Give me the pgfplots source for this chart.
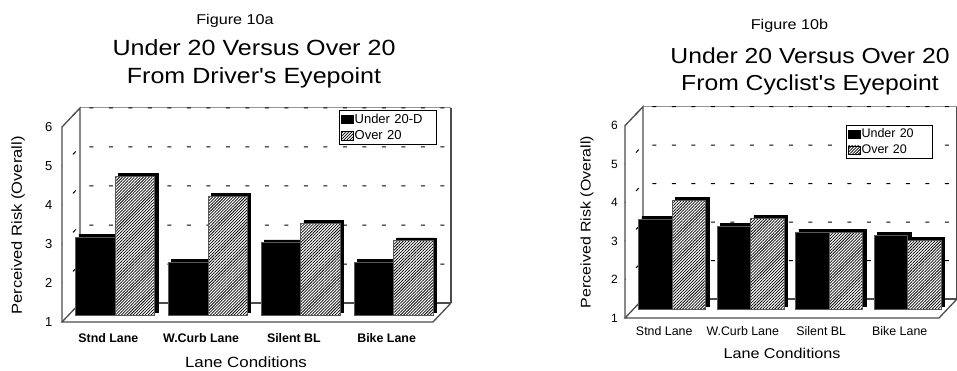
\documentclass[border=0pt]{standalone}
\usepackage{fontspec}
\setmainfont{Liberation Sans}
\newfontfamily\widefont[FakeStretch=1.14]{Liberation Sans}
\usepackage{pgfplots}
\pgfplotsset{compat=1.18}
\usepackage{pgfplotstable}
\usetikzlibrary{patterns.meta}

% mean perceived risk per lane condition, by age group
\pgfplotstableread{
idx under over
0 3.00 4.55
1 2.35 4.05
2 2.85 3.35
3 2.35 2.90
}\driver
\pgfplotstableread{
idx under over
0 3.33 3.82
1 3.15 3.35
2 3.00 3.00
3 2.91 2.78
}\cyclist

\newcommand\fs[1]{\fontsize{#1}{#1}\selectfont}
\definecolor{frame}{gray}{0.3}
\definecolor{edge}{gray}{0.35}
\tikzset{hatch/.style={fill=white,
  postaction={pattern={Lines[angle=45,distance=2.1pt,line width=0.75pt]}}}}

\pgfplotsset{
  risk3d/.style={
    scale only axis, anchor=south west,
    xmin=-0.5, xmax=3.5, ymin=1, ymax=6,
    y coord trafo/.code={\pgfmathparse{##1-1}},
    y coord inv trafo/.code={\pgfmathparse{##1+1}},
    ytick={1,2,3,4,5,6}, xtick={0,1,2,3},
    axis line style={draw=none}, tick style={draw=none},
    major tick length=0pt,
    clip=false,
    /pgf/number format/assume math mode=true,
    legend image code/.code={\draw[##1, line width=0.6pt] (0pt,-4.2pt) rectangle (12pt,4.2pt);},
    legend cell align=left,
  },
}

% draws the 3D box: floor, back wall, left side and dashed gridlines
\newcommand\drawriskbox[1]{%
  \draw[frame, line width=1.3pt]
    ([shift={#1}]rel axis cs:0,0) -- ([shift={#1}]rel axis cs:1,0);
  \pgfplotsinvokeforeach{0.2,0.4,0.6,0.8}{%
    \draw[black, line width=1pt, dash pattern=on 4pt off 15.5pt, dash phase=3.5pt]
      (rel axis cs:0,##1) -- ([shift={#1}]rel axis cs:0,##1) -- ([shift={#1}]rel axis cs:1,##1);
  }
  \draw[frame!60, line width=1pt] ([shift={#1}]rel axis cs:0,1) -- ([shift={#1}]rel axis cs:1,1);
  \draw[black, line width=1pt, dash pattern=on 4pt off 15.5pt, dash phase=3.5pt]
      (rel axis cs:0,1) -- ([shift={#1}]rel axis cs:0,1) -- ([shift={#1}]rel axis cs:1,1);
  \draw[frame, line width=1.3pt]
    (rel axis cs:0,0) -- (rel axis cs:0,1) -- ([shift={#1}]rel axis cs:0,1)
    -- ([shift={#1}]rel axis cs:0,0);
  \draw[frame, line width=1.3pt]
    ([shift={#1}]rel axis cs:1,1) -- ([shift={#1}]rel axis cs:1,0);
  \draw[frame, line width=1.3pt]
    ([shift={#1}]rel axis cs:0,0) -- (rel axis cs:0,0) -- (rel axis cs:1,0)
    -- ([shift={#1}]rel axis cs:1,0);
}

\begin{document}
\begin{tikzpicture}
\path[use as bounding box] (0,0) rectangle (957pt,-371pt);

% ---------- Figure 10a ----------
\begin{axis}[risk3d,
  at={(62pt,-322pt)}, width=371pt, height=195pt,
  xticklabels={Stnd Lane, W.Curb Lane, Silent BL, Bike Lane},
  xticklabel style={anchor=base, yshift=-20pt, font=\bfseries\fs{12.4}},
  yticklabel style={anchor=east, inner sep=0pt, xshift=-9.5pt, font=\fs{13}},
  legend style={at={(0.747,1.087)}, anchor=north west, draw=black, line width=0.8pt,
    font=\fs{13}, inner xsep=1.5pt, inner ysep=2.5pt, row sep=3.5pt,
    nodes={inner xsep=1pt, inner ysep=1pt}},
]
\drawriskbox{(18pt,19pt)}
% depth faces of the columns
\addplot[ybar, bar width=39.5pt, bar shift=-19.75pt, fill=black, draw=black,
  xshift=10pt, yshift=10pt, forget plot] table[x=idx, y=under] {\driver};
\addplot[ybar, bar width=39.5pt, bar shift=19.75pt, fill=black, draw=black,
  xshift=10pt, yshift=10pt, forget plot] table[x=idx, y=over] {\driver};
% front faces
\addplot[ybar, bar width=39.5pt, bar shift=-19.75pt, fill=black, draw=edge, line width=0.9pt,
  xshift=7pt, yshift=7pt, forget plot] table[x=idx, y=under] {\driver};
\addplot[ybar, bar width=39.5pt, bar shift=19.75pt, hatch, draw=edge, line width=0.9pt,
  xshift=7pt, yshift=7pt, forget plot] table[x=idx, y=over] {\driver};
\addlegendimage{fill=black, draw=black}
\addlegendentry[text width=79pt]{Under 20-D}
\addlegendimage{hatch, draw=black}
\addlegendentry[text width=79pt]{Over 20}
\end{axis}

\node[anchor=base, font=\widefont\fs{14.2}] at (235pt,-25pt) {Figure 10a};
\node[anchor=base, font=\widefont\fs{22}] at (254pt,-55.7pt) {Under 20 Versus Over 20};
\node[anchor=base, font=\widefont\fs{22}] at (254pt,-83.3pt) {From Driver's Eyepoint};
\node[rotate=90, font=\widefont\fs{14.5}] at (18pt,-225.5pt) {Perceived Risk (Overall)};
\node[anchor=base, font=\widefont\fs{14.8}] at (246pt,-367.7pt) {Lane Conditions};

% ---------- Figure 10b ----------
\begin{axis}[risk3d,
  at={(625pt,-318pt)}, width=314pt, height=192.3pt,
  xticklabels={Stnd Lane, W.Curb Lane, Silent BL, Bike Lane},
  xticklabel style={anchor=base, yshift=-17pt, font=\fs{12.4}},
  yticklabel style={anchor=east, inner sep=0pt, xshift=-7pt, font=\fs{12}},
  legend style={at={(0.704,1.004)}, anchor=north west, draw=black, line width=0.8pt,
    font=\fs{12.5}, inner xsep=1.5pt, inner ysep=2.5pt, row sep=3.5pt,
    nodes={inner xsep=1pt, inner ysep=1pt}},
]
\drawriskbox{(18pt,19pt)}
\addplot[ybar, bar width=33.5pt, bar shift=-16.75pt, fill=black, draw=black,
  xshift=11pt, yshift=12pt, forget plot] table[x=idx, y=under] {\cyclist};
\addplot[ybar, bar width=33.5pt, bar shift=16.75pt, fill=black, draw=black,
  xshift=11pt, yshift=12pt, forget plot] table[x=idx, y=over] {\cyclist};
\addplot[ybar, bar width=33.5pt, bar shift=-16.75pt, fill=black, draw=edge, line width=0.9pt,
  xshift=8pt, yshift=9pt, forget plot] table[x=idx, y=under] {\cyclist};
\addplot[ybar, bar width=33.5pt, bar shift=16.75pt, hatch, draw=edge, line width=0.9pt,
  xshift=8pt, yshift=9pt, forget plot] table[x=idx, y=over] {\cyclist};
\addlegendimage{fill=black, draw=black}
\addlegendentry[text width=68pt]{Under 20}
\addlegendimage{hatch, draw=black}
\addlegendentry[text width=68pt]{Over 20}
\end{axis}

\node[anchor=base, font=\widefont\fs{14.2}] at (789.5pt,-30pt) {Figure 10b};
\node[anchor=base, font=\widefont\fs{21.7}] at (810pt,-63.3pt) {Under 20 Versus Over 20};
\node[anchor=base, font=\widefont\fs{21.7}] at (810pt,-90.7pt) {From Cyclist's Eyepoint};
\node[rotate=90, font=\widefont\fs{14}] at (587pt,-222pt) {Perceived Risk (Overall)};
\node[anchor=base, font=\widefont\fs{14.2}] at (782pt,-358.3pt) {Lane Conditions};
\end{tikzpicture}
\end{document}
